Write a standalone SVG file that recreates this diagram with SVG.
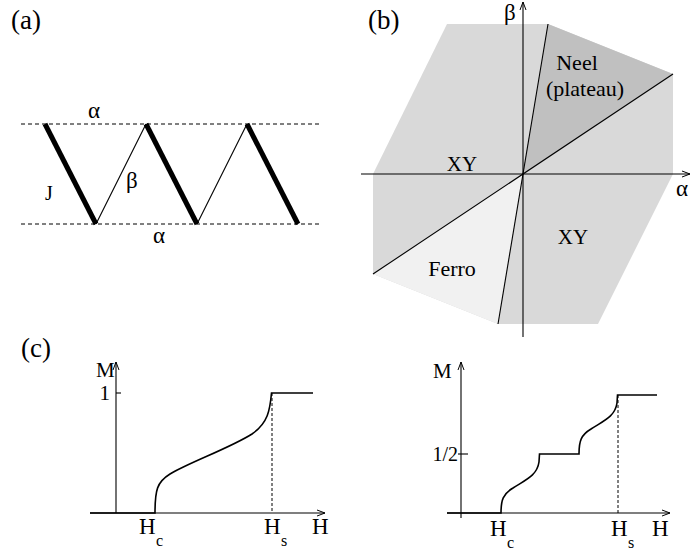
<svg xmlns="http://www.w3.org/2000/svg" width="691" height="550" viewBox="0 0 691 550" font-family="'Liberation Serif', 'DejaVu Serif', serif">
<style>
text{font-family:'Liberation Serif','DejaVu Serif',serif;font-size:22px;fill:#000}
.lab{font-size:27px}
.gr{font-size:23px}
.h{font-size:23px}
.sub{font-size:16px}
.thick{stroke:#000;stroke-width:5;fill:none}
.thin{stroke:#000;stroke-width:1.1;fill:none}
.dash{stroke:#000;stroke-width:1;stroke-dasharray:4,3;fill:none}
.dot{stroke:#000;stroke-width:1;stroke-dasharray:3,2;fill:none}
.ax{stroke:#000;stroke-width:1.1;fill:none;marker-end:url(#arr)}
.curve{stroke:#000;stroke-width:1.6;fill:none}
</style>
<defs>
<marker id="arr" markerWidth="10" markerHeight="8" refX="8" refY="4" orient="auto" markerUnits="userSpaceOnUse">
<path d="M0,1 L8,4 L0,7" fill="none" stroke="#000" stroke-width="1"/>
</marker>
</defs>
<g id="panel-a">
<text class="lab" x="11" y="29">(a)</text>
<line class="dash" x1="21" y1="124" x2="322" y2="124"/>
<line class="dash" x1="21" y1="224" x2="322" y2="224"/>
<g id="bonds">
<line class="thick" x1="45" y1="124" x2="96" y2="224"/>
<line class="thick" x1="146" y1="124" x2="197" y2="224"/>
<line class="thick" x1="247" y1="124" x2="298" y2="224"/>
<line class="thin" x1="96" y1="224" x2="146" y2="124"/>
<line class="thin" x1="197" y1="224" x2="247" y2="124"/>
</g>
<text class="gr" x="88" y="118">α</text>
<text class="gr" x="153" y="243">α</text>
<text class="gr" x="126" y="188">β</text>
<text x="45" y="200" style="font-size:20px">J</text>
</g>
<g id="panel-b">
<text class="lab" x="368" y="29">(b)</text>
<polygon points="447,24 548,24 673,74 673,174 598,324 498,324 373,274 373,174" fill="#d9d9d9"/>
<polygon id="neel" points="523,174 548,24 673,74" fill="#c0c0c0"/>
<polygon id="ferro" points="523,174 373,274 498,324" fill="#f1f1f1"/>
<line class="thin" x1="548" y1="24" x2="498" y2="324"/>
<line class="thin" x1="673" y1="74" x2="373" y2="274"/>
<line class="ax" x1="361" y1="174" x2="690" y2="174"/>
<line class="ax" x1="523" y1="337" x2="523" y2="2"/>
<text class="gr" x="504" y="20">β</text>
<text class="gr" x="676" y="196">α</text>
<text x="577" y="70" text-anchor="middle">Neel</text>
<text x="585" y="96" text-anchor="middle">(plateau)</text>
<text x="462" y="171" text-anchor="middle" style="font-size:21px">XY</text>
<text x="573" y="244" text-anchor="middle" style="font-size:21px">XY</text>
<text x="452" y="276" text-anchor="middle">Ferro</text>
</g>
<g id="panel-c-left">
<text class="lab" x="21" y="357">(c)</text>
<line class="ax" x1="90" y1="513" x2="325" y2="513"/>
<line class="ax" x1="116" y1="513" x2="116" y2="362"/>
<line class="thin" x1="116" y1="393" x2="121" y2="393"/>
<line class="dot" x1="272" y1="393" x2="272" y2="513"/>
<path class="curve" d="M90,513 H155 C155,490 157,482 170,474 C190,462 230,448 252,434 C268,423 270,410 271.5,393 H313"/>
<text x="96" y="377" style="font-size:21px">M</text>
<text x="110" y="400" text-anchor="end" style="font-size:21px">1</text>
<text class="h" x="139" y="534">H</text><text class="sub" x="156" y="546">c</text>
<text class="h" x="264" y="534">H</text><text class="sub" x="281" y="546">s</text>
<text class="h" x="312" y="534">H</text>
</g>
<g id="panel-c-right">
<line class="ax" x1="447" y1="513" x2="670" y2="513"/>
<line class="ax" x1="461" y1="518" x2="461" y2="362"/>
<line class="thin" x1="458" y1="454" x2="468" y2="454"/>
<line class="dot" x1="618" y1="395" x2="618" y2="513"/>
<path class="curve" d="M447,513 H501 C501,500 503,494 513,488 C525,480 537,476 539,462 L539.5,454 H579 C579,441 581,435 591,429 C603,421 615,417 617,403 L617.5,395 H657"/>
<text x="433" y="378" style="font-size:21px">M</text>
<text x="458" y="461" text-anchor="end" style="font-size:20px">1/2</text>
<text class="h" x="490" y="536">H</text><text class="sub" x="507" y="548">c</text>
<text class="h" x="611" y="536">H</text><text class="sub" x="628" y="548">s</text>
<text class="h" x="652" y="536">H</text>
</g>
</svg>
